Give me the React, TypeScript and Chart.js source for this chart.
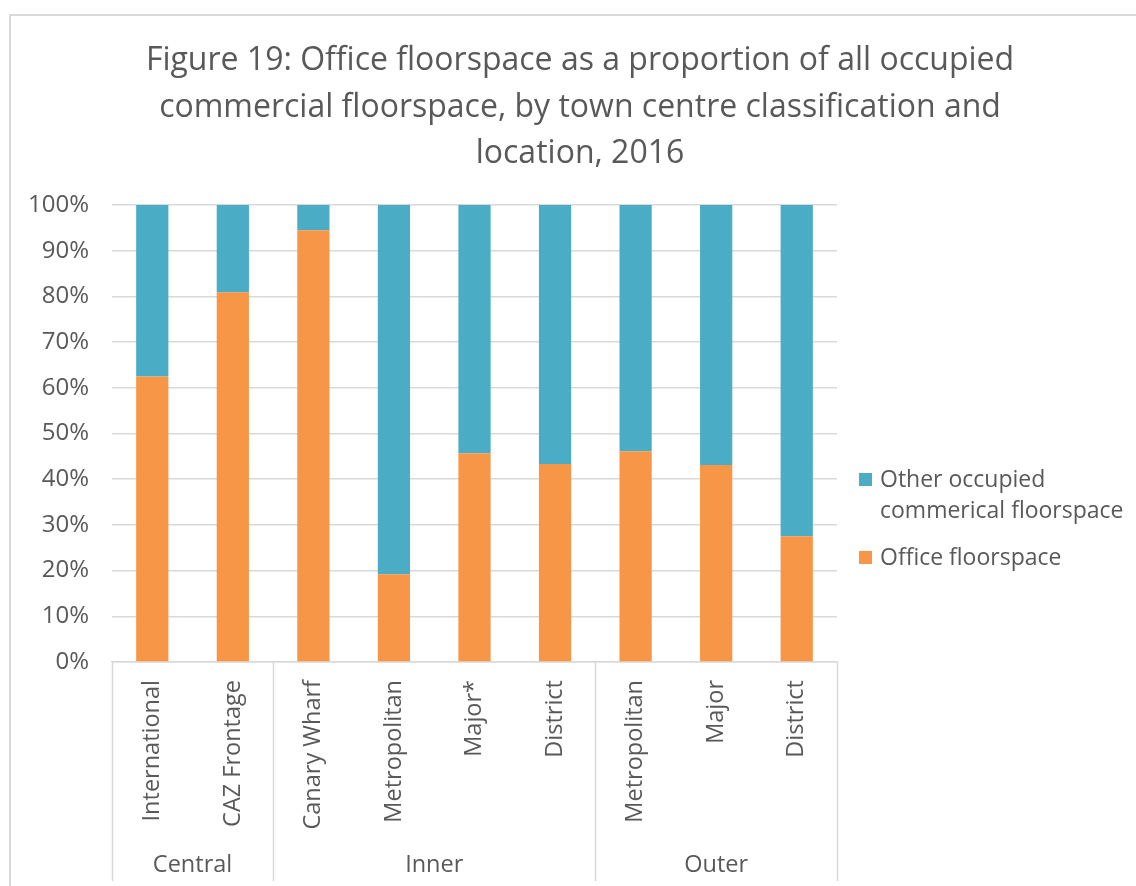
import React, { useEffect, useRef } from "react";
import { Chart, registerables } from "chart.js";

Chart.register(...registerables);

const categories = [
  "International",
  "CAZ Frontage",
  "Canary Wharf",
  "Metropolitan",
  "Major*",
  "District",
  "Metropolitan",
  "Major",
  "District",
];
const groupNames = ["Central", "Inner", "Outer"];
const groupSizes = [2, 4, 3];
const officeValues = [62.5, 80.9, 94.5, 19.2, 45.7, 43.3, 46.1, 43.1, 27.5];
const otherValues = [37.5, 19.1, 5.5, 80.8, 54.3, 56.7, 53.9, 56.9, 72.5];
const titleLines = [
  "Figure 19: Office floorspace as a proportion of all occupied",
  "commercial floorspace, by town centre classification and",
  "location, 2016",
];
const legendOther = ["Other occupied", "commerical floorspace"];
const legendOffice = "Office floorspace";

const TEXT = "#595959";
const GRID = "#d9d9d9";
const ORANGE = "#F79646";
const TEAL = "#4BACC6";
const FONT = "'Open Sans', sans-serif";

const decorPlugin = {
  id: "decor",
  beforeDraw(chart: any) {
    const ctx = chart.ctx;
    ctx.save();
    ctx.strokeStyle = GRID;
    ctx.lineWidth = 2;
    ctx.strokeRect(10, 15, 1300, 1000);
    ctx.restore();
  },
  afterDraw(chart: any) {
    const ctx = chart.ctx;
    const area = chart.chartArea;
    const x = chart.scales.x;
    ctx.save();
    // title
    ctx.fillStyle = TEXT;
    ctx.font = `32px ${FONT}`;
    ctx.textAlign = "center";
    ctx.textBaseline = "alphabetic";
    const ty = [70, 117, 163];
    titleLines.forEach((l, i) => ctx.fillText(l, 580, ty[i]));

    // group separators and labels
    ctx.strokeStyle = GRID;
    ctx.lineWidth = 1.5;
    const bounds: number[] = [area.left];
    let idx = 0;
    groupSizes.forEach((n, gi) => {
      idx += n;
      if (gi < groupSizes.length - 1) {
        bounds.push((x.getPixelForTick(idx - 1) + x.getPixelForTick(idx)) / 2);
      } else {
        bounds.push(area.right);
      }
    });
    bounds.forEach((b) => {
      ctx.beginPath();
      ctx.moveTo(Math.round(b) + 0.5, area.bottom);
      ctx.lineTo(Math.round(b) + 0.5, 881);
      ctx.stroke();
    });
    ctx.font = `23.5px ${FONT}`;
    ctx.textBaseline = "middle";
    groupNames.forEach((g, i) => {
      ctx.fillText(g, (bounds[i] + bounds[i + 1]) / 2, 865);
    });

    // legend
    ctx.textAlign = "left";
    ctx.font = `23px ${FONT}`;
    ctx.fillStyle = TEAL;
    ctx.fillRect(859, 473, 13, 13);
    ctx.fillStyle = ORANGE;
    ctx.fillRect(859, 551, 13, 13);
    ctx.fillStyle = TEXT;
    ctx.fillText(legendOther[0], 880, 480);
    ctx.fillText(legendOther[1], 880, 511);
    ctx.fillText(legendOffice, 880, 558);
    ctx.restore();
  },
};

export default function App() {
  const ref = useRef<HTMLCanvasElement>(null);
  useEffect(() => {
    if (!ref.current) return;
    const chart = new Chart(ref.current, {
      type: "bar",
      data: {
        labels: categories,
        datasets: [
          {
            label: legendOffice,
            data: officeValues,
            backgroundColor: ORANGE,
            borderWidth: 0,
          },
          {
            label: legendOther.join(" "),
            data: otherValues,
            backgroundColor: TEAL,
            borderWidth: 0,
          },
        ],
      },
      options: {
        responsive: false,
        animation: false,
        layout: { padding: { top: 205, right: 299, left: 0, bottom: 0 } },
        datasets: { bar: { categoryPercentage: 1, barPercentage: 0.4 } },
        plugins: {
          legend: { display: false },
          title: { display: false },
          tooltip: { enabled: false },
        },
        scales: {
          x: {
            stacked: true,
            grid: { display: false, drawTicks: false },
            border: { display: true, color: GRID, width: 1.5 },
            ticks: {
              color: TEXT,
              font: { family: FONT, size: 23.5 },
              minRotation: 90,
              maxRotation: 90,
              padding: 18,
              autoSkip: false,
            },
            afterFit: (s: any) => {
              s.height = 224;
            },
          },
          y: {
            stacked: true,
            min: 0,
            max: 100,
            grid: { color: GRID, lineWidth: 1.5, drawTicks: false },
            border: { display: false },
            ticks: {
              stepSize: 10,
              color: TEXT,
              font: { family: FONT, size: 24 },
              padding: 23,
              callback: (v: any) => v + "%",
            },
            afterFit: (s: any) => {
              s.width = 112;
            },
          },
        },
      },
      plugins: [decorPlugin],
    });
    return () => chart.destroy();
  }, []);
  return (
    <div style={{ position: "absolute", left: 0, top: 0, width: 1136, height: 886, background: "#fff" }}>
      <canvas ref={ref} width={1136} height={886} style={{ width: 1136, height: 886 }} />
    </div>
  );
}
